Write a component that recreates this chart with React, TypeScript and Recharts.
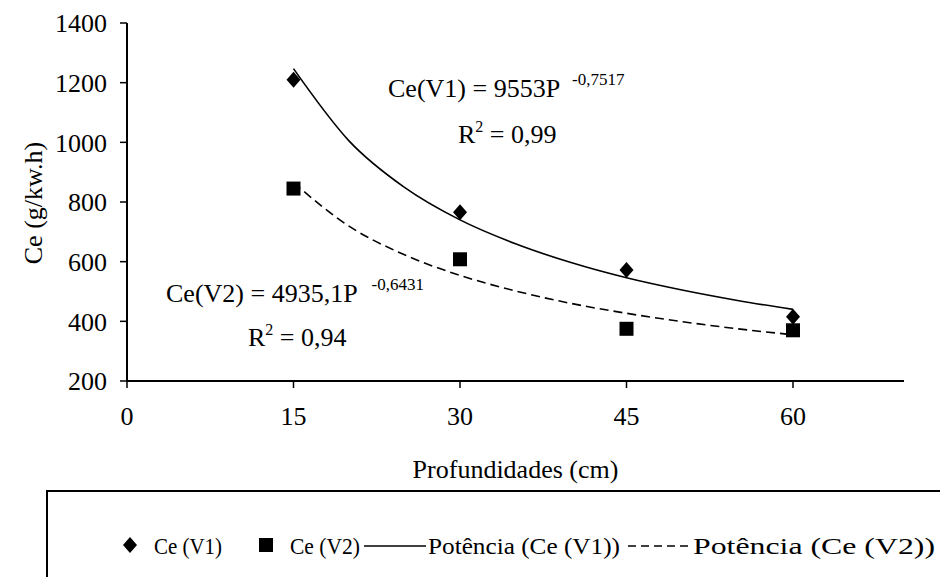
import { ComposedChart, Line, Scatter, XAxis, YAxis } from 'recharts'

const FONT = "'Liberation Serif', 'DejaVu Serif', 'Times New Roman', serif"

// axis ticks
const X_TICKS = [0, 15, 30, 45, 60]
const Y_TICKS = [200, 400, 600, 800, 1000, 1200, 1400]

// measured points
const depths = [15, 30, 45, 60]
const ceV1 = [1210, 766, 572, 415]
const ceV2 = [845, 608, 375, 370]

// power trend lines
const trendDepths = [15, 20, 25, 30, 35, 40, 45, 50, 55, 60]
const trendV1 = [1247, 1005, 849, 740, 660, 597, 546, 505, 470, 440]
const trendV2 = [865, 719, 623, 554, 502, 460, 427, 399, 375, 355]

const pts = (xs: number[], ys: number[]) => xs.map((x, i) => ({ x, y: ys[i] }))

const Diamond = ({ cx, cy }: any) => (
  <path d={`M${cx},${cy - 8}L${cx + 7},${cy}L${cx},${cy + 8}L${cx - 7},${cy}Z`} fill="#000" />
)
const Square = ({ cx, cy }: any) => (
  <rect x={cx - 7} y={cy - 7} width={14} height={14} fill="#000" />
)

const tickStyle = { fill: '#000', fontSize: 26, fontFamily: FONT }

export default function App() {
  return (
    <div style={{ position: 'absolute', left: 0, top: 0, width: 940, height: 577, background: '#fff', overflow: 'hidden', fontFamily: FONT }}>
      <ComposedChart width={940} height={577} margin={{ top: 23, right: 36, left: 0, bottom: 0 }} style={{ fontFamily: FONT }}>
        <XAxis
          type="number"
          dataKey="x"
          domain={[0, 70]}
          ticks={X_TICKS}
          allowDataOverflow
          height={196}
          tick={tickStyle}
          tickSize={7}
          tickMargin={19}
          axisLine={{ stroke: '#000', strokeWidth: 2 }}
          tickLine={{ stroke: '#000', strokeWidth: 1.5 }}
          label={{ value: 'Profundidades (cm)', position: 'insideTop', offset: 79, fill: '#000', fontSize: 26, fontFamily: FONT }}
        />
        <YAxis
          type="number"
          dataKey="y"
          domain={[200, 1400]}
          ticks={Y_TICKS}
          allowDataOverflow
          width={127}
          tick={tickStyle}
          tickSize={7}
          tickMargin={13}
          axisLine={{ stroke: '#000', strokeWidth: 2 }}
          tickLine={{ stroke: '#000', strokeWidth: 1.5 }}
        />
        <Line
          data={pts(trendDepths, trendV1)}
          dataKey="y"
          type="monotone"
          stroke="#000"
          strokeWidth={1.6}
          dot={false}
          activeDot={false}
          isAnimationActive={false}
        />
        <Line
          data={pts(trendDepths, trendV2)}
          dataKey="y"
          type="monotone"
          stroke="#000"
          strokeWidth={1.6}
          strokeDasharray="9 5"
          dot={false}
          activeDot={false}
          isAnimationActive={false}
        />
        <Scatter data={pts(depths, ceV1)} dataKey="y" shape={Diamond} isAnimationActive={false} />
        <Scatter data={pts(depths, ceV2)} dataKey="y" shape={Square} isAnimationActive={false} />
      </ComposedChart>

      {/* equations, y-axis title, legend */}
      <svg width={940} height={577} style={{ position: 'absolute', left: 0, top: 0, pointerEvents: 'none', fontFamily: FONT }}
        fill="#000">
        <text x={33} y={203} fontSize={26} textAnchor="middle" transform="rotate(-90 33 203)" dy="0.35em">
          Ce (g/kw.h)
        </text>

        <text x={388} y={97} fontSize={26}>
          Ce(V1) = 9553P<tspan dx={12} dy={-12} fontSize={17}>-0,7517</tspan>
        </text>
        <text x={458} y={143} fontSize={26}>
          R<tspan dy={-11} fontSize={16}>2</tspan><tspan dy={11}> = 0,99</tspan>
        </text>

        <text x={166} y={302} fontSize={26}>
          Ce(V2) = 4935,1P<tspan dx={14} dy={-12} fontSize={17}>-0,6431</tspan>
        </text>
        <text x={248} y={346} fontSize={26}>
          R<tspan dy={-11} fontSize={16}>2</tspan><tspan dy={11}> = 0,94</tspan>
        </text>

        <path d="M47,577V491H940" fill="none" stroke="#000" strokeWidth={2} />
        <Diamond cx={130} cy={545} />
        <text x={154} y={554} fontSize={24} textLength={68} lengthAdjust="spacingAndGlyphs">Ce (V1)</text>
        <Square cx={266} cy={545} />
        <text x={290} y={554} fontSize={24} textLength={70} lengthAdjust="spacingAndGlyphs">Ce (V2)</text>
        <line x1={364} x2={426} y1={546} y2={546} stroke="#000" strokeWidth={1.6} />
        <text x={428} y={554} fontSize={24} textLength={192} lengthAdjust="spacingAndGlyphs">Potência (Ce (V1))</text>
        <line x1={628} x2={690} y1={546} y2={546} stroke="#000" strokeWidth={1.6} strokeDasharray="8 5" />
        <text x={693} y={554} fontSize={24} textLength={242} lengthAdjust="spacingAndGlyphs">Potência (Ce (V2))</text>
      </svg>
    </div>
  )
}
